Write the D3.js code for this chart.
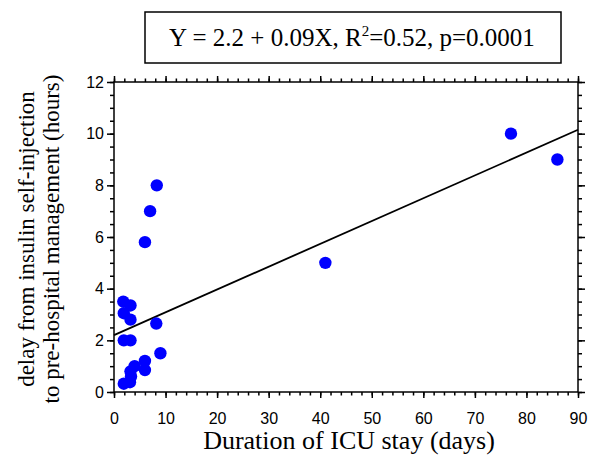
<!DOCTYPE html>
<html><head><meta charset="utf-8">
<script src="https://cdn.jsdelivr.net/npm/d3@7"></script>
<style>body{margin:0;background:#fff}svg{display:block}</style>
</head><body><svg id="c" width="600" height="464"></svg>
<script>
// Data
const icuDays    = [77, 86, 41, 8.3, 7, 6, 1.8, 3.2, 1.9, 3.2, 8.2, 1.9, 3.2, 9, 6, 6, 4, 3.2, 3.3, 1.9, 3.1];
const delayHours = [10, 9, 5, 8, 7, 5.8, 3.5, 3.35, 3.05, 2.8, 2.65, 2.0, 2.0, 1.5, 1.2, 0.85, 1.0, 0.8, 0.6, 0.32, 0.38];
const fitX = [0, 90];
const fitY = [2.2, 10.15];
const xTicks = [0, 10, 20, 30, 40, 50, 60, 70, 80, 90];
const yTicks = [0, 2, 4, 6, 8, 10, 12];
const xMinor = d3.range(0, 90.01, 2);
const yMinor = d3.range(0, 12.01, 0.5);
const xTitle = "Duration of ICU stay (days)";
const yTitle = ["delay from insulin self-injection", "to pre-hospital management (hours)"];

const svg = d3.select("#c");
const L = 114, R = 578, T = 82, B = 392;
const x = d3.scaleLinear().domain([0, 90]).range([L, R]);
const y = d3.scaleLinear().domain([0, 12]).range([B, T]);

function style(g) {
  g.select(".domain").remove();
  g.selectAll("line").attr("stroke", "#000").attr("stroke-width", 1.5);
  g.selectAll("text").attr("font-family", "'Liberation Sans', Arial, sans-serif").attr("font-size", 16).attr("fill", "#000");
}
// major/minor ticks on all four sides
svg.append("g").attr("transform", `translate(0,${B})`).call(d3.axisBottom(x).tickValues(xMinor).tickSize(3.5).tickFormat("")).call(style);
svg.append("g").attr("transform", `translate(0,${B})`).call(d3.axisBottom(x).tickValues(xTicks).tickSize(6).tickPadding(15).tickFormat(d3.format("d"))).call(style);
svg.append("g").attr("transform", `translate(0,${T})`).call(d3.axisTop(x).tickValues(xMinor).tickSize(3.5).tickFormat("")).call(style);
svg.append("g").attr("transform", `translate(0,${T})`).call(d3.axisTop(x).tickValues(xTicks).tickSize(6).tickFormat("")).call(style);
svg.append("g").attr("transform", `translate(${L},0)`).call(d3.axisLeft(y).tickValues(yMinor).tickSize(4).tickFormat("")).call(style);
svg.append("g").attr("transform", `translate(${L},0)`).call(d3.axisLeft(y).tickValues(yTicks).tickSize(7).tickPadding(3).tickFormat(d3.format("d"))).call(style);
svg.append("g").attr("transform", `translate(${R},0)`).call(d3.axisRight(y).tickValues(yMinor).tickSize(4).tickFormat("")).call(style);
svg.append("g").attr("transform", `translate(${R},0)`).call(d3.axisRight(y).tickValues(yTicks).tickSize(7).tickFormat("")).call(style);

// frame
svg.append("rect").attr("x", L).attr("y", T).attr("width", R - L).attr("height", B - T)
  .attr("fill", "none").attr("stroke", "#000").attr("stroke-width", 1.5);

// regression line
svg.append("line").attr("x1", x(fitX[0])).attr("y1", y(fitY[0])).attr("x2", x(fitX[1])).attr("y2", y(fitY[1]))
  .attr("stroke", "#000").attr("stroke-width", 1.8);

// points
svg.append("g").selectAll("circle").data(icuDays).join("circle")
  .attr("cx", d => x(d)).attr("cy", (d, i) => y(delayHours[i])).attr("r", 6.2).attr("fill", "#0000ff");

// axis titles
svg.append("text").attr("x", 349).attr("y", 449).attr("text-anchor", "middle")
  .attr("font-family", "'Liberation Serif', 'Times New Roman', serif").attr("font-size", 26).text(xTitle);
const yt = svg.append("text").attr("transform", `translate(0,${(T + B) / 2 + 2}) rotate(-90)`)
  .attr("text-anchor", "middle").attr("font-family", "'Liberation Serif', 'Times New Roman', serif").attr("font-size", 23);
yt.selectAll("tspan").data(yTitle).join("tspan").attr("x", 0).attr("y", (d, i) => 34 + i * 25).text(d => d);

// title box
svg.append("rect").attr("x", 145).attr("y", 12).attr("width", 416).attr("height", 51)
  .attr("fill", "none").attr("stroke", "#000").attr("stroke-width", 1.5);
const t = svg.append("text").attr("x", 352).attr("y", 46).attr("text-anchor", "middle")
  .attr("font-family", "'Liberation Serif', 'Times New Roman', serif").attr("font-size", 25);
t.append("tspan").text("Y = 2.2 + 0.09X, R");
t.append("tspan").attr("font-size", 15).attr("dy", -10).text("2");
t.append("tspan").attr("dy", 10).text("=0.52, p=0.0001");
</script>
</body></html>
